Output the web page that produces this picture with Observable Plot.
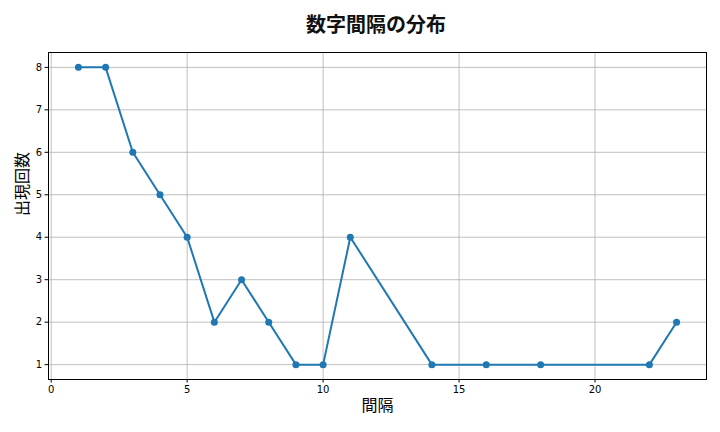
<!DOCTYPE html>
<html><head><meta charset="utf-8">
<script src="https://cdn.jsdelivr.net/npm/d3@7"></script>
<script src="https://cdn.jsdelivr.net/npm/@observablehq/plot@0.6"></script>
<style>
body{margin:0;background:#fff;font-family:"Noto Sans CJK JP","DejaVu Sans",sans-serif;}
#title{height:40px;line-height:48px;text-align:center;width:720px;padding-left:32px;box-sizing:border-box;font-size:20px;font-weight:bold;color:#111;}
svg{display:block}
</style></head><body>
<div id="title">数字間隔の分布</div>
<div id="chart"></div>
<script>
const intervals = [1,2,3,4,5,6,7,8,9,10,11,14,16,18,22,23];
const counts = [8,8,6,5,4,2,3,2,1,1,4,1,1,1,1,2];
const xTicks = [0,5,10,15,20];
const yTicks = [1,2,3,4,5,6,7,8];
const xLabel = "間隔";
const yLabel = "出現回数";
const data = intervals.map((d,i)=>({x:d,y:counts[i]}));
const chart = Plot.plot({
  width:720, height:392,
  marginLeft:48, marginRight:14, marginTop:12, marginBottom:53,
  style:{fontFamily:"DejaVu Sans", fontSize:"10px", color:"#000", background:"#fff"},
  x:{domain:[-0.1,24.1], ticks:xTicks, label:null},
  y:{domain:[0.65,8.35], ticks:yTicks, label:null},
  marks:[
    Plot.gridX(xTicks,{stroke:"#b0b0b0", strokeOpacity:1, strokeWidth:0.8}),
    Plot.gridY(yTicks,{stroke:"#b0b0b0", strokeOpacity:1, strokeWidth:0.8}),
    Plot.axisX({ticks:xTicks, tickSize:3.5, tickPadding:3, fontSize:10, label:null}),
    Plot.axisY({ticks:yTicks, tickSize:3.5, tickPadding:3, fontSize:10, label:null}),
    Plot.line(data,{x:"x",y:"y",stroke:"#1f77b4",strokeWidth:2}),
    Plot.dot(data,{x:"x",y:"y",fill:"#1f77b4",r:3.5}),
    Plot.frame({stroke:"#000", strokeWidth:1}),
    Plot.text([xLabel],{frameAnchor:"bottom", dy:31, fontSize:16, fontFamily:"Noto Sans CJK JP", fill:"#000"}),
    Plot.text([yLabel],{frameAnchor:"left", dx:-26, rotate:-90, fontSize:16, fontFamily:"Noto Sans CJK JP", fill:"#000"})
  ]
});
document.getElementById("chart").appendChild(chart);
</script>
</body></html>
